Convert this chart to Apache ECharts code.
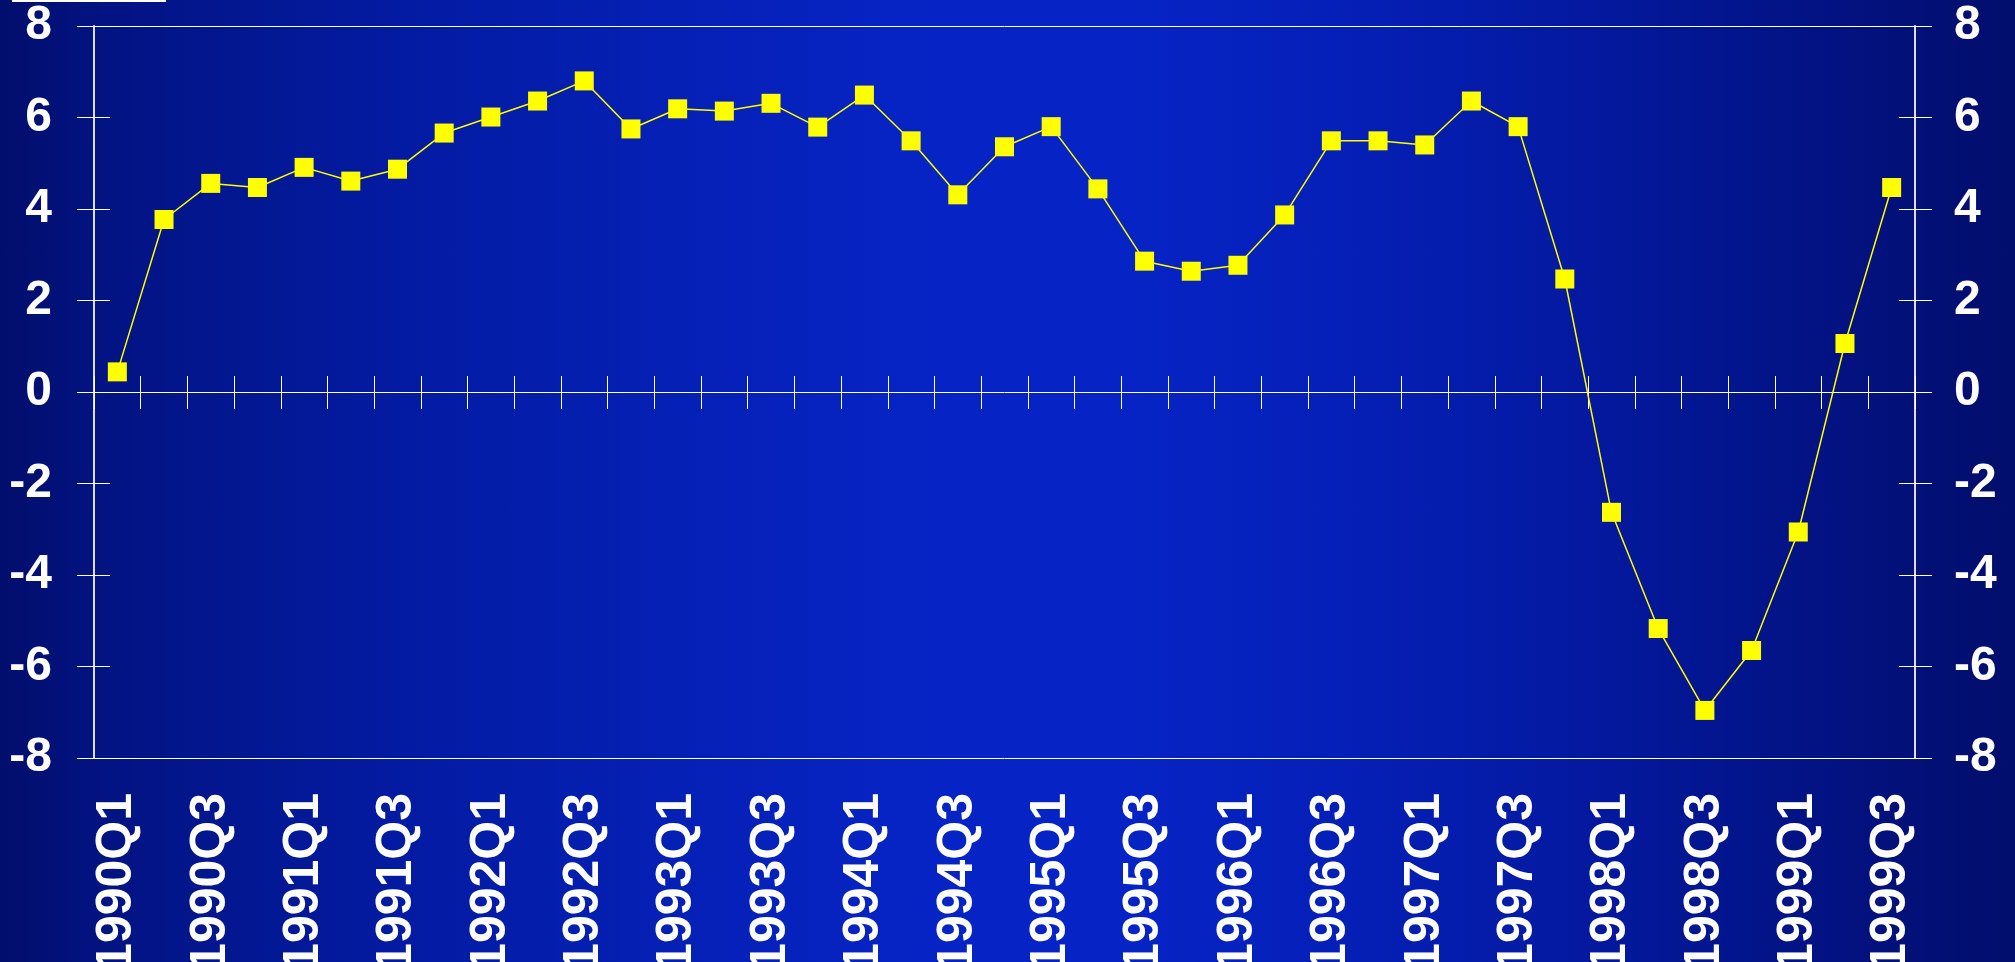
<!DOCTYPE html>
<html>
<head>
<meta charset="utf-8">
<title>Quarterly growth 1990-1999</title>
<script src="https://cdn.jsdelivr.net/npm/echarts@6/dist/echarts.min.js"></script>
<style>
  html, body {
    margin: 0;
    padding: 0;
  }
  #chart {
    width: 2015px;
    height: 962px;
    background: linear-gradient(to right, #020e6c 0%, #021382 5%, #031ba2 20%, #0624c4 45%, #0624c6 55%, #0520b8 66%, #03189c 80%, #02117c 93%, #020e6c 100%);
  }
</style>
</head>
<body>
<div id="chart"></div>
<script>
// quarters 1990Q1 - 1999Q3
var quarters = [
  "1990Q1", "1990Q2", "1990Q3", "1990Q4",
  "1991Q1", "1991Q2", "1991Q3", "1991Q4",
  "1992Q1", "1992Q2", "1992Q3", "1992Q4",
  "1993Q1", "1993Q2", "1993Q3", "1993Q4",
  "1994Q1", "1994Q2", "1994Q3", "1994Q4",
  "1995Q1", "1995Q2", "1995Q3", "1995Q4",
  "1996Q1", "1996Q2", "1996Q3", "1996Q4",
  "1997Q1", "1997Q2", "1997Q3", "1997Q4",
  "1998Q1", "1998Q2", "1998Q3", "1998Q4",
  "1999Q1", "1999Q2", "1999Q3"
];
// values
var growth = [
  0.44, 3.77, 4.56, 4.47,
  4.91, 4.61, 4.87, 5.66,
  6.01, 6.36, 6.80, 5.75,
  6.19, 6.14, 6.31, 5.79,
  6.49, 5.49, 4.31, 5.36,
  5.80, 4.44, 2.86, 2.64,
  2.77, 3.87, 5.49, 5.49,
  5.40, 6.36, 5.80, 2.47,
  -2.63, -5.17, -6.96, -5.65,
  -3.06, 1.06, 4.47
];
var yTicks = { min: -8, max: 8, interval: 2 };

var fontFamily = '"Liberation Sans", Arial, sans-serif';
var axisWhite = "#ffffff";
var axisGrey = "#dcdcec";

// value axis; side = left/right, inner = second copy for ticks crossing the line
function valueAxis(side, inner) {
  return {
    type: "value",
    position: side,
    min: yTicks.min,
    max: yTicks.max,
    interval: yTicks.interval,
    splitLine: { show: false },
    axisLine: { show: !inner, lineStyle: { color: axisGrey, width: 2 } },
    axisTick: {
      show: true,
      inside: inner,
      length: inner ? 16 : 17,
      lineStyle: { color: axisWhite, width: 1 }
    },
    axisLabel: {
      show: !inner,
      color: axisWhite,
      fontSize: 48,
      fontWeight: "bold",
      fontFamily: fontFamily,
      margin: side == "left" ? 42 : 39
    }
  };
}

// category axes through zero, only line + ticks
function zeroAxis(inner) {
  return {
    type: "category",
    data: quarters,
    position: "bottom",
    boundaryGap: true,
    axisLine: { show: !inner, onZero: true, onZeroAxisIndex: 0, lineStyle: { color: axisWhite, width: 1 } },
    axisTick: {
      show: true,
      inside: inner,
      interval: 0,
      length: inner ? 16 : 17,
      lineStyle: { color: axisWhite, width: 1 }
    },
    axisLabel: { show: false }
  };
}

var option = {
  backgroundColor: "transparent",
  animation: false,
  grid: {
    left: 94,
    right: 100,
    top: 26,
    bottom: 204,
    containLabel: false,
    outerBoundsMode: "none"
  },
  graphic: [
    {
      type: "rect",
      shape: { x: 12, y: 0, width: 154, height: 2 },
      style: { fill: "#ffffff" }
    }
  ],
  xAxis: [
    // labels + bottom border
    {
      type: "category",
      data: quarters,
      position: "bottom",
      boundaryGap: true,
      axisLine: { show: true, onZero: false, lineStyle: { color: axisWhite, width: 1 } },
      axisTick: { show: false },
      axisLabel: {
        interval: 1,
        rotate: 90,
        color: axisWhite,
        fontSize: 50,
        fontWeight: "bold",
        fontFamily: fontFamily,
        margin: 35
      }
    },
    // top border
    {
      type: "category",
      data: quarters,
      position: "top",
      boundaryGap: true,
      axisLine: { show: true, onZero: false, lineStyle: { color: axisWhite, width: 1 } },
      axisTick: { show: false },
      axisLabel: { show: false }
    },
    zeroAxis(false),
    zeroAxis(true)
  ],
  yAxis: [
    valueAxis("left", false),
    valueAxis("left", true),
    valueAxis("right", false),
    valueAxis("right", true)
  ],
  series: [
    {
      type: "line",
      xAxisIndex: 0,
      yAxisIndex: 0,
      data: growth,
      symbol: "rect",
      symbolSize: [19, 19],
      lineStyle: { color: "#ffff00", width: 1.5 },
      itemStyle: { color: "#ffff00" }
    }
  ]
};

var chart = echarts.init(document.getElementById("chart"));
chart.setOption(option);
</script>
</body>
</html>
